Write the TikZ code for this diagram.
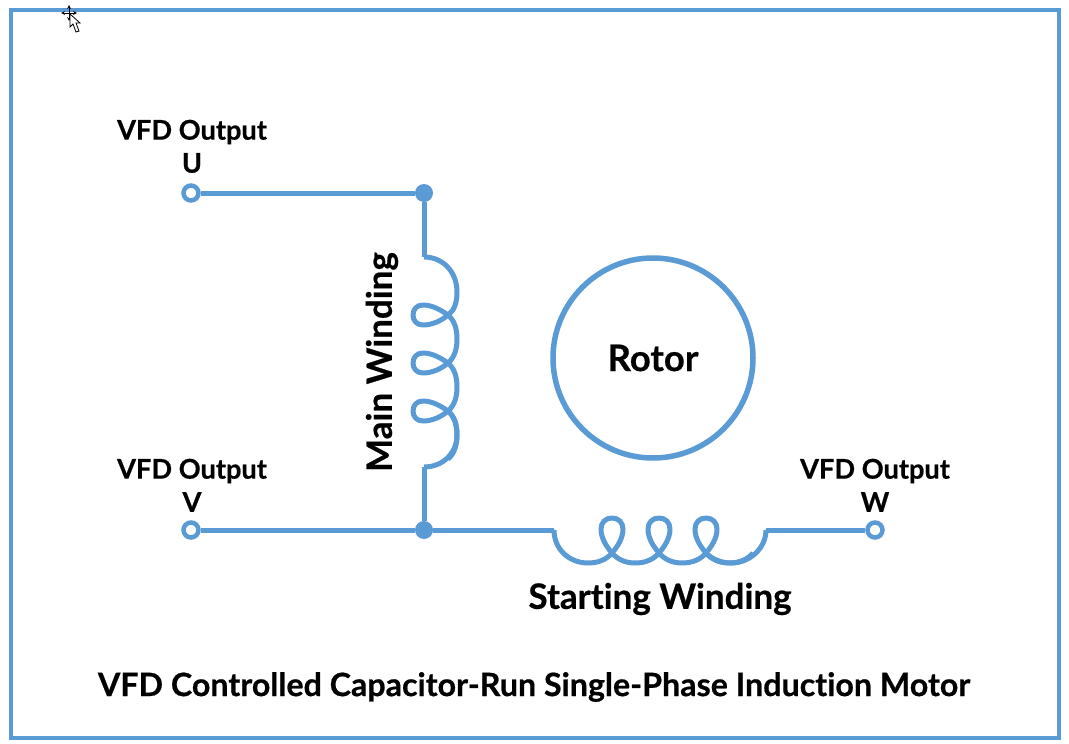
\documentclass[tikz,border=0pt]{standalone}
\usepackage{fontspec}
\setmainfont{Lato}[BoldFeatures={FakeBold=0.6},Ligatures=NoCommon]
\definecolor{wireblue}{HTML}{5B9BD5}
\tikzset{
	wire/.style={draw=wireblue,line width=5pt},
	junction/.style={circle,fill=wireblue,inner sep=0pt,minimum size=18pt},
	terminal/.style={circle,draw=wireblue,line width=4.5pt,fill=white,inner sep=0pt,minimum size=15pt},
	label/.style={inner sep=0pt,font=\bfseries\fontsize{27.2}{30}\selectfont},
	biglabel/.style={inner sep=0pt,font=\bfseries\fontsize{35}{38}\selectfont}
}
\begin{document}
\begin{tikzpicture}[x=1pt,y=-1pt]
	\useasboundingbox (0,0) rectangle (1069,744);
	\draw[draw=wireblue,line width=4pt] (11,10) rectangle (1059,738);
	% mouse pointer
	\draw[<->,>=stealth,line width=.8pt] (69,5) -- (69,21);
	\draw[<->,>=stealth,line width=.8pt] (61,13) -- (77,13);
	\draw[fill=white,line width=.8pt] (70,14) -- (70,27) -- (73,24) -- (76,32) -- (79,31) -- (76,23) -- (80,23) -- cycle;
	% terminals and junctions
	\node[terminal] (termU) at (191,193) {};
	\node[terminal] (termV) at (191,530) {};
	\node[terminal] (termW) at (875,530) {};
	\node[junction] (juncU) at (424,193) {};
	\node[junction] (juncV) at (424,530) {};
	\coordinate (mainT) at (424,257);
	\coordinate (mainB) at (424,467);
	\coordinate (startL) at (554,530);
	\coordinate (startR) at (766,530);
	% wires
	\draw[wire] (termU) -- (juncU);
	\draw[wire] (termV) -- (juncV);
	\draw[wire] (juncU) -- (mainT);
	\draw[wire] (juncV) -- (mainB);
	\draw[wire] (juncV) -- (startL);
	\draw[wire] (startR) -- (termW);
	% main winding
	\draw[wire,line join=round] (mainT) .. controls (443,257) and (457,272) .. (457,292)
		.. controls (457,303) and (454,311) .. (448,315)
		\foreach \s in {0,48,96} {
			.. controls (441,321+\s) and (432,325+\s) .. (423,325+\s)
			.. controls (417,325+\s) and (413,321+\s) .. (413,315+\s)
			.. controls (413,309+\s) and (417,305+\s) .. (423,305+\s)
			.. controls (432,305+\s) and (441,310+\s) .. (448,315+\s)
			.. controls (454,320+\s) and (457,328+\s) .. (457,339+\s)
			.. controls (457,350+\s) and (454,358+\s) .. (448,363+\s)
		}
		;
	\draw[wire,line join=round] (448,411) .. controls (454,416) and (457,424) .. (457,435)
		.. controls (457,453) and (443,467) .. (mainB);
	% starting winding
	\draw[wire,line join=round] (startL) .. controls (554,549) and (569,563) .. (588,563)
		.. controls (599,563) and (607,559) .. (612,553)
		\foreach \s in {0,47,94} {
			.. controls (618+\s,546) and (623+\s,538) .. (623+\s,529)
			.. controls (623+\s,522) and (618+\s,518) .. (612+\s,518)
			.. controls (606+\s,518) and (601+\s,522) .. (601+\s,529)
			.. controls (601+\s,538) and (606+\s,546) .. (612+\s,553)
			.. controls (617+\s,559) and (625+\s,563) .. (635+\s,563)
			.. controls (646+\s,563) and (654+\s,559) .. (659+\s,553)
		}
		;
	\draw[wire,line join=round] (706,553) .. controls (712,559) and (721,563) .. (731,563)
		.. controls (750,563) and (766,548) .. (startR);
	% rotor
	\node[circle,draw=wireblue,line width=5.5pt,inner sep=0pt,minimum size=200pt] (rotor) at (653,358) {};
	\node[biglabel,font=\bfseries\fontsize{36.5}{38}\selectfont] (rotorlabel) at (rotor) {Rotor};
	% labels
	\node[label] (vfdU) at (192,132) {VFD Output};
	\node[label] (nameU) at (192,163) {U};
	\node[label] (vfdV) at (192,471) {VFD Output};
	\node[label] (nameV) at (192,502) {V};
	\node[label] (vfdW) at (875,471) {VFD Output};
	\node[label] (nameW) at (875,502) {W};
	\node[biglabel,rotate=90] (mainlabel) at (382,362) {Main Winding};
	\node[biglabel] (startlabel) at (660,599) {Starting Winding};
	\node[biglabel,font=\bfseries\fontsize{32.2}{34}\selectfont] (title) at (534,687) {VFD Controlled Capacitor-Run Single-Phase Induction Motor};
\end{tikzpicture}
\end{document}
